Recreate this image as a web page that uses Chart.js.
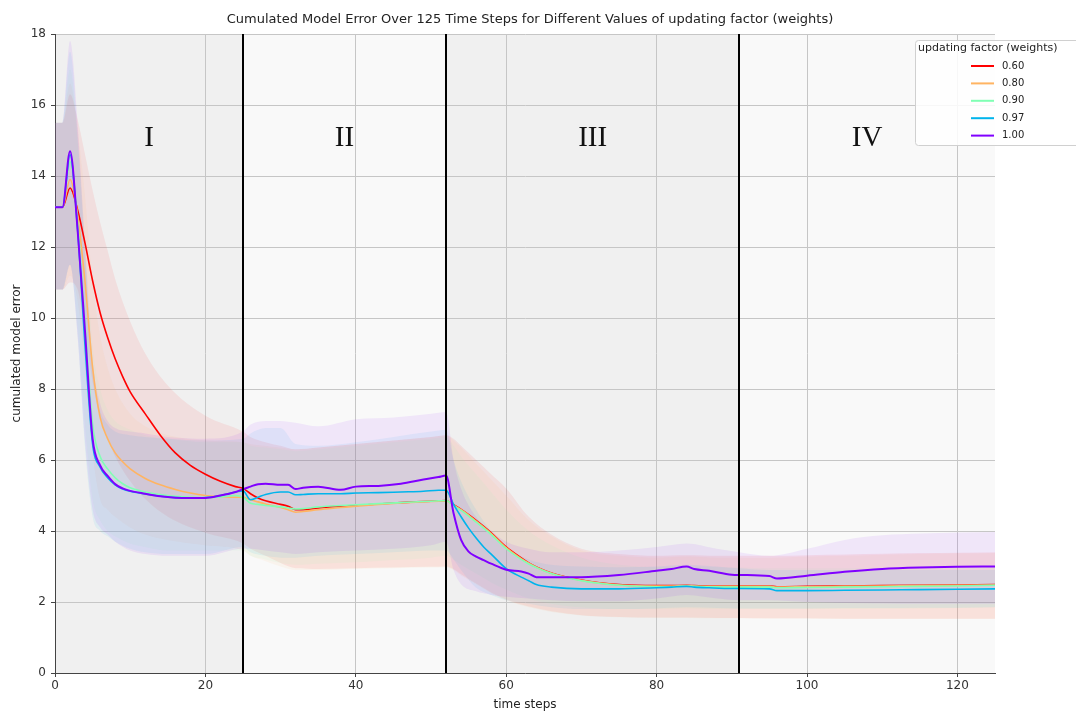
<!DOCTYPE html>
<html>
<head>
<meta charset="utf-8">
<title>Cumulated Model Error</title>
<script src="https://cdn.jsdelivr.net/npm/chart.js@4.4.1/dist/chart.umd.min.js"></script>
<style>
  html, body { margin: 0; padding: 0; background: #fff; }
  #wrap { width: 1076px; height: 713px; }
</style>
</head>
<body>
<div id="wrap"><canvas id="chart" width="1076" height="713"></canvas></div>
<script>
const steps = [0,1,2,3,4,5,6,7,8,9,10,12,14,16,18,20,22,24,25,26,27,28,30,31,32,33,35,38,40,43,46,49,51,52,53,54,55,56,57,58,60,62,63,64,66,70,75,80,82,84,85,87,90,95,96,100,105,110,115,120,125];

// mean cumulated error per updating factor
const err060 = [13.12,13.12,13.66,13.05,12.1,11.05,10.15,9.45,8.85,8.35,7.92,7.3,6.7,6.2,5.85,5.6,5.4,5.25,5.2,5.05,4.93,4.85,4.75,4.7,4.6,4.6,4.65,4.7,4.72,4.76,4.8,4.83,4.85,4.86,4.74,4.61,4.46,4.3,4.13,3.95,3.55,3.24,3.1,2.99,2.82,2.62,2.49,2.46,2.46,2.47,2.46,2.45,2.45,2.45,2.43,2.44,2.45,2.46,2.47,2.48,2.49];
const err080 = [13.12,13.12,13.9,12.9,11.0,8.6,7.2,6.6,6.2,5.95,5.75,5.48,5.3,5.17,5.07,5.0,4.97,4.95,4.95,4.88,4.82,4.76,4.66,4.6,4.53,4.55,4.6,4.66,4.7,4.75,4.79,4.82,4.84,4.85,4.73,4.6,4.45,4.28,4.11,3.93,3.53,3.22,3.09,2.98,2.81,2.61,2.48,2.45,2.45,2.46,2.45,2.44,2.44,2.44,2.42,2.43,2.44,2.45,2.46,2.47,2.48];
const err090 = [13.12,13.12,14.4,12.7,9.8,7.0,6.1,5.75,5.5,5.33,5.22,5.1,5.03,4.98,4.95,4.94,4.96,5.0,4.95,4.78,4.75,4.72,4.68,4.65,4.62,4.63,4.68,4.72,4.74,4.77,4.8,4.83,4.85,4.86,4.72,4.58,4.42,4.25,4.08,3.9,3.5,3.2,3.07,2.97,2.8,2.6,2.47,2.43,2.43,2.45,2.44,2.43,2.42,2.42,2.4,2.41,2.42,2.43,2.44,2.45,2.47];
const err097 = [13.12,13.12,14.6,12.5,9.2,6.45,5.8,5.5,5.3,5.18,5.12,5.04,4.98,4.94,4.93,4.94,5.0,5.1,5.13,4.88,4.95,5.03,5.1,5.1,5.02,5.03,5.05,5.05,5.07,5.08,5.1,5.12,5.15,5.15,4.75,4.4,4.08,3.8,3.55,3.35,2.94,2.7,2.6,2.49,2.42,2.37,2.37,2.4,2.42,2.44,2.42,2.4,2.38,2.37,2.32,2.32,2.33,2.34,2.35,2.36,2.37];
const err100 = [13.12,13.12,14.7,12.5,9.6,6.6,5.85,5.55,5.32,5.2,5.13,5.05,4.98,4.94,4.93,4.93,5.0,5.1,5.18,5.25,5.32,5.33,5.3,5.3,5.18,5.22,5.25,5.16,5.25,5.27,5.33,5.45,5.52,5.56,4.5,3.75,3.42,3.28,3.18,3.08,2.91,2.86,2.8,2.7,2.7,2.7,2.76,2.88,2.93,3.0,2.93,2.88,2.77,2.73,2.66,2.74,2.85,2.93,2.97,2.99,3.0];

const bandSteps = [0,1,2,3,4,5,6,7,8,10,12,15,20,25,26,28,30,32,35,40,45,50,52,53,54,56,58,60,63,66,70,75,80,84,88,91,95,100,105,110,115,120,125];

const up060 = [15.5,15.5,16.3,15.6,14.6,13.6,12.7,11.9,11.1,9.9,9.0,8.1,7.25,6.8,6.65,6.5,6.4,6.3,6.35,6.45,6.55,6.65,6.7,6.6,6.4,6.0,5.6,5.2,4.4,3.9,3.5,3.35,3.3,3.32,3.3,3.3,3.3,3.32,3.34,3.36,3.38,3.39,3.4];
const low060 = [10.8,10.8,11.0,10.8,9.6,8.2,7.2,6.6,6.1,5.4,4.9,4.4,3.95,3.65,3.5,3.3,3.1,2.95,2.93,2.95,2.97,2.99,3.0,2.92,2.78,2.52,2.27,2.07,1.87,1.74,1.63,1.58,1.56,1.56,1.55,1.55,1.54,1.54,1.53,1.53,1.53,1.53,1.53];
const up080 = [15.5,15.5,16.6,15.3,13.4,11.0,9.5,8.6,8.0,7.3,6.95,6.7,6.55,6.5,6.45,6.4,6.35,6.3,6.35,6.45,6.55,6.65,6.7,6.55,6.35,5.9,5.45,5.0,4.3,3.85,3.45,3.3,3.25,3.28,3.25,3.25,3.25,3.28,3.3,3.33,3.35,3.37,3.38];
const low080 = [10.8,10.8,11.2,10.5,8.6,6.2,4.9,4.6,4.4,4.1,3.9,3.75,3.6,3.45,3.3,3.15,3.0,2.9,2.9,2.93,2.95,2.97,2.98,2.9,2.75,2.5,2.25,2.05,1.85,1.72,1.62,1.57,1.55,1.55,1.54,1.54,1.53,1.53,1.52,1.52,1.52,1.52,1.52];
const up090 = [15.5,15.5,17.0,15.0,12.2,9.2,8.0,7.4,7.1,6.85,6.7,6.6,6.5,6.5,6.4,6.35,6.3,6.25,6.3,6.4,6.5,6.6,6.65,6.4,6.1,5.6,5.1,4.6,4.0,3.6,3.25,3.05,2.98,3.0,2.98,2.97,2.95,2.95,2.95,2.96,2.97,2.98,3.0];
const low090 = [10.8,10.8,11.5,9.8,7.0,4.9,4.3,4.0,3.85,3.65,3.55,3.45,3.45,3.45,3.3,3.2,3.1,3.05,3.08,3.12,3.18,3.25,3.3,3.2,3.05,2.8,2.55,2.35,2.1,1.95,1.85,1.8,1.8,1.82,1.8,1.8,1.8,1.8,1.8,1.81,1.82,1.83,1.85];
const up097 = [15.5,15.5,17.5,15.2,11.8,8.5,7.4,7.0,6.8,6.7,6.65,6.6,6.55,6.6,6.75,6.9,6.9,6.45,6.4,6.5,6.65,6.8,6.85,6.0,5.4,4.6,4.0,3.55,3.2,3.05,3.0,2.98,3.0,3.05,3.0,2.95,2.9,2.9,2.9,2.9,2.9,2.9,2.9];
const low097 = [10.8,10.8,11.5,9.5,6.3,4.4,4.0,3.85,3.7,3.5,3.4,3.35,3.35,3.55,3.4,3.3,3.25,3.25,3.3,3.35,3.4,3.45,3.45,3.2,2.9,2.4,2.2,2.05,1.95,1.85,1.8,1.8,1.82,1.85,1.83,1.82,1.82,1.82,1.83,1.83,1.84,1.84,1.85];
const up100 = [15.5,15.5,17.8,15.5,12.0,8.8,7.6,7.1,6.9,6.8,6.75,6.65,6.6,6.8,7.0,7.1,7.1,7.05,6.95,7.15,7.2,7.3,7.35,6.0,5.2,4.4,4.0,3.7,3.5,3.4,3.4,3.45,3.55,3.65,3.5,3.4,3.3,3.5,3.75,3.88,3.93,3.96,3.97];
const low100 = [10.8,10.8,11.5,9.5,6.5,4.6,4.1,3.9,3.7,3.45,3.35,3.3,3.3,3.5,3.5,3.45,3.4,3.35,3.4,3.45,3.5,3.6,3.7,2.9,2.5,2.3,2.2,2.15,2.1,2.05,2.02,2.02,2.1,2.2,2.1,2.05,2.05,2.0,1.97,1.96,1.95,1.95,1.95];

const factorLabels = ['0.60', '0.80', '0.90', '0.97', '1.00'];
const phaseBounds = [0, 25, 52, 91, 125];
const phaseLabels = ['I', 'II', 'III', 'IV'];
const xTicks = [0, 20, 40, 60, 80, 100, 120];
const yTicks = [0, 2, 4, 6, 8, 10, 12, 14, 16, 18];

// rainbow colormap, 1.00 -> purple ... 0.60 -> red
const colors = ['#ff0000', '#ffb462', '#80ffb4', '#00b4ec', '#8000ff'];
const means = [err060, err080, err090, err097, err100];
const uppers = [up060, up080, up090, up097, up100];
const lowers = [low060, low080, low090, low097, low100];

function alpha(hex, a) {
  const n = parseInt(hex.slice(1), 16);
  return `rgba(${(n >> 16) & 255}, ${(n >> 8) & 255}, ${n & 255}, ${a})`;
}
const pts = (xs, ys) => xs.map((t, k) => ({ x: t, y: ys[k] }));

const datasets = [];
factorLabels.forEach((lab, i) => {
  datasets.push({
    label: lab + ' upper', data: pts(bandSteps, uppers[i]),
    borderWidth: 0, borderColor: 'transparent', pointRadius: 0,
    backgroundColor: alpha(colors[i], 0.075), fill: '+1', order: 100 - i
  });
  datasets.push({
    label: lab + ' lower', data: pts(bandSteps, lowers[i]),
    borderWidth: 0, borderColor: 'transparent', pointRadius: 0,
    fill: false, order: 100 - i
  });
});
factorLabels.forEach((lab, i) => {
  datasets.push({
    label: lab, data: pts(steps, means[i]),
    borderColor: colors[i], borderWidth: i === 4 ? 2 : 1.6,
    pointRadius: 0, fill: false, order: 10 - i
  });
});

const FONT = "'DejaVu Sans', sans-serif";

const overlay = {
  id: 'overlay',
  beforeDraw(chart) {
    const { ctx, chartArea: a, scales: { x } } = chart;
    ctx.save();
    for (let i = 0; i < phaseLabels.length; i++) {
      const x0 = x.getPixelForValue(phaseBounds[i]);
      const x1 = x.getPixelForValue(phaseBounds[i + 1]);
      ctx.fillStyle = i % 2 === 0 ? '#f0f0f0' : '#f9f9f9';
      ctx.fillRect(x0, a.top, x1 - x0, a.bottom - a.top);
    }
    ctx.restore();
  },
  afterDatasetsDraw(chart) {
    const { ctx, chartArea: a, scales: { x } } = chart;
    ctx.save();
    ctx.strokeStyle = '#000';
    ctx.lineWidth = 2;
    phaseBounds.slice(1, -1).forEach(b => {
      const px = Math.round(x.getPixelForValue(b));
      ctx.beginPath();
      ctx.moveTo(px, a.top);
      ctx.lineTo(px, a.bottom);
      ctx.stroke();
    });
    ctx.restore();
  },
  afterDraw(chart) {
    const { ctx, chartArea: a, scales: { x, y } } = chart;
    ctx.save();
    // phase numerals
    ctx.fillStyle = '#111';
    ctx.font = "29px 'Liberation Serif', serif";
    ctx.textAlign = 'center';
    ctx.textBaseline = 'middle';
    phaseLabels.forEach((p, i) => {
      const mid = (phaseBounds[i] + phaseBounds[i + 1]) / 2;
      ctx.fillText(p, x.getPixelForValue(mid), y.getPixelForValue(15.05));
    });
    // title
    ctx.fillStyle = '#222';
    ctx.font = '13px ' + FONT;
    ctx.fillText('Cumulated Model Error Over 125 Time Steps for Different Values of updating factor (weights)', (a.left + a.right) / 2 + 5, 20);
    // legend
    const lx = 915, ly = 40, lw = 200, lh = 105;
    ctx.fillStyle = 'rgba(255,255,255,0.85)';
    ctx.strokeStyle = '#d0d0d0';
    ctx.lineWidth = 1;
    ctx.beginPath();
    ctx.roundRect(lx + 0.5, ly + 0.5, lw, lh, 3);
    ctx.fill();
    ctx.stroke();
    ctx.fillStyle = '#222';
    ctx.textAlign = 'left';
    ctx.font = '11px ' + FONT;
    ctx.fillText('updating factor (weights)', 918, 48);
    ctx.font = '10px ' + FONT;
    factorLabels.forEach((lab, i) => {
      const yy = 66 + i * 17.4;
      ctx.strokeStyle = colors[i];
      ctx.lineWidth = 2;
      ctx.beginPath();
      ctx.moveTo(971, yy);
      ctx.lineTo(994, yy);
      ctx.stroke();
      ctx.fillStyle = '#222';
      ctx.fillText(lab, 1002, yy);
    });
    ctx.restore();
  }
};

new Chart(document.getElementById('chart'), {
  type: 'line',
  data: { datasets },
  options: {
    responsive: false,
    animation: false,
    layout: { padding: { left: 0, right: 81, top: 34, bottom: 0 } },
    elements: { line: { cubicInterpolationMode: 'monotone' } },
    plugins: {
      legend: { display: false },
      tooltip: { enabled: false },
      filler: { propagate: false }
    },
    scales: {
      x: {
        type: 'linear', min: 0, max: 125,
        afterBuildTicks: s => { s.ticks = xTicks.map(v => ({ value: v })); },
        afterFit: s => { s.height = 40; },
        grid: { color: '#c6c6c6', tickColor: '#444', tickLength: 4 },
        border: { display: true, color: '#444', width: 1 },
        ticks: { color: '#333', font: { family: FONT, size: 12 }, padding: 2, maxRotation: 0 },
        title: { display: true, text: 'time steps', color: '#222', font: { family: FONT, size: 12 }, padding: { top: 0, bottom: 1 } }
      },
      y: {
        type: 'linear', min: 0, max: 18,
        afterBuildTicks: s => { s.ticks = yTicks.map(v => ({ value: v })); },
        afterFit: s => { s.width = 55; },
        grid: { color: '#c6c6c6', tickColor: '#444', tickLength: 4 },
        border: { display: true, color: '#444', width: 1 },
        ticks: { color: '#333', font: { family: FONT, size: 12 }, padding: 5 },
        title: { display: true, text: 'cumulated model error', color: '#222', font: { family: FONT, size: 12 }, padding: { top: 10, bottom: 0 } }
      }
    }
  },
  plugins: [overlay]
});
</script>
</body>
</html>
